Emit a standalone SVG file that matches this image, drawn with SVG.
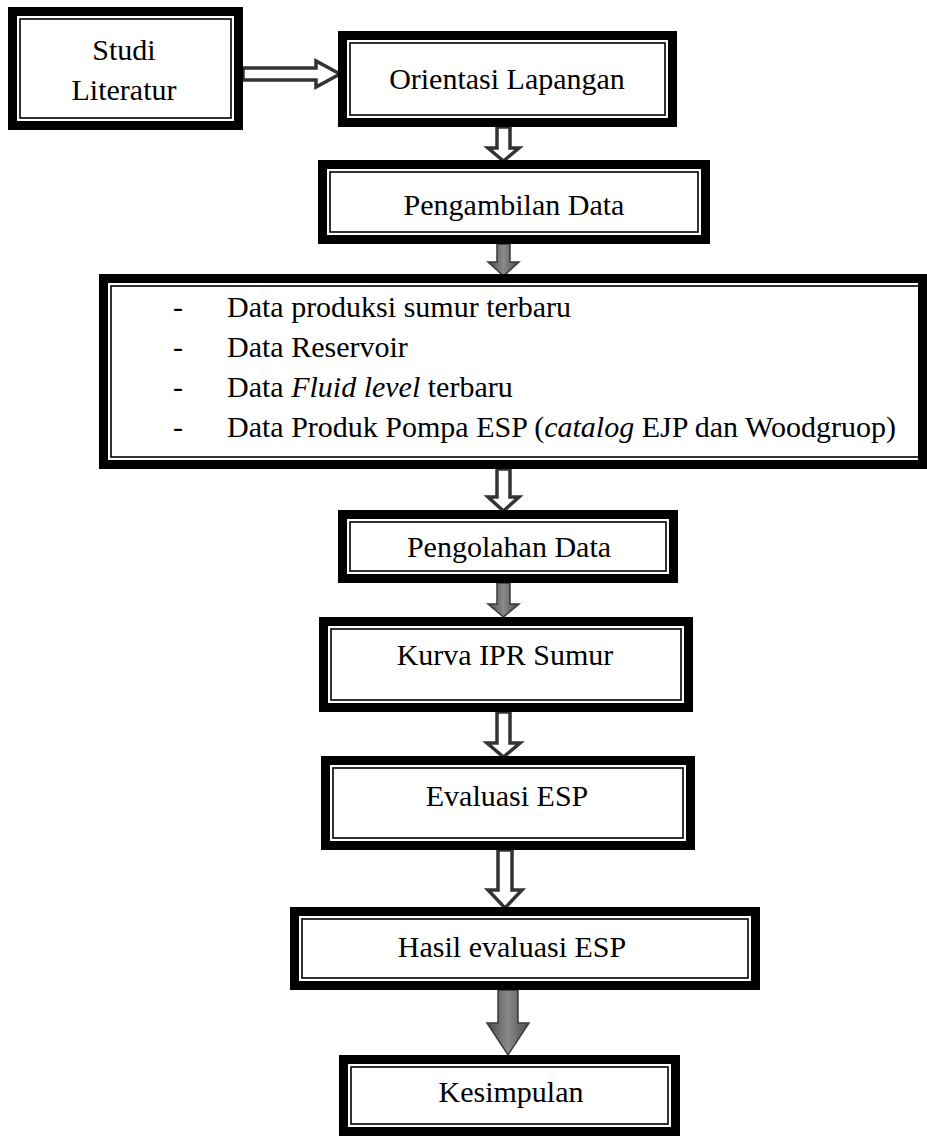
<svg xmlns="http://www.w3.org/2000/svg" width="927" height="1137" viewBox="0 0 927 1137">
<defs>
<linearGradient id="g" x1="0" y1="0" x2="1" y2="0">
<stop offset="0" stop-color="#4a4a4a"/><stop offset="0.5" stop-color="#8a8a8a"/><stop offset="1" stop-color="#4a4a4a"/>
</linearGradient>
<style>
.o{fill:#fff;stroke:#000;stroke-width:9}
.i{fill:none;stroke:#000;stroke-width:1.6}
.t{font-family:"Liberation Serif","Times New Roman",serif;font-size:30px;fill:#000}
.c{text-anchor:middle}
.h{fill:#fff;stroke:#333;stroke-width:3.5;stroke-linejoin:miter}
.s{fill:url(#g);stroke:#3a3a3a;stroke-width:1.5}
</style>
</defs>
<rect width="927" height="1137" fill="#fff"/>
<g id="connectors">
<polygon class="h" points="243,68 316,68 316,61 340,74 316,87 316,80 243,80"/>
<polygon class="h" points="497,127 510,127 510,148 519,148 503.5,161 488,148 497,148"/>
<polygon class="s" points="497,244 510,244 510,262 519,262 503.5,276 488,262 497,262"/>
<polygon class="h" points="497,469 510,469 510,497 519,497 503.5,511 488,497 497,497"/>
<polygon class="s" points="497,583 510,583 510,604 519,604 503.5,617 488,604 497,604"/>
<polygon class="h" points="497,712 510,712 510,743 520,743 503.5,757 487,743 497,743"/>
<polygon class="h" points="498,850 512,850 512,890 522,890 505,908 488,890 498,890"/>
<polygon class="s" points="498,990 518,990 518,1023 529,1023 508,1055 487,1023 498,1023"/>
</g>
<g id="n1">
<rect class="o" x="12.5" y="11.5" width="226" height="114"/>
<rect class="i" x="20" y="19" width="211" height="99"/>
<text class="t c" x="124" y="60">Studi</text>
<text class="t c" x="124" y="100">Literatur</text>
</g>
<g id="n2">
<rect class="o" x="342.5" y="35.5" width="330" height="87"/>
<rect class="i" x="350" y="43" width="315" height="72"/>
<text class="t c" x="507" y="89">Orientasi Lapangan</text>
</g>
<g id="n3">
<rect class="o" x="322.5" y="164.5" width="383" height="75"/>
<rect class="i" x="330" y="172" width="368" height="60"/>
<text class="t c" x="514" y="215">Pengambilan Data</text>
</g>
<g id="n4">
<rect class="o" x="103.5" y="278.5" width="819" height="186"/>
<rect class="i" x="111" y="286" width="808" height="171"/>
<text class="t" x="173" y="317">-</text>
<text class="t" x="227" y="317">Data produksi sumur terbaru</text>
<text class="t" x="173" y="357">-</text>
<text class="t" x="227" y="357">Data Reservoir</text>
<text class="t" x="173" y="397">-</text>
<text class="t" x="227" y="397">Data <tspan font-style="italic">Fluid level</tspan> terbaru</text>
<text class="t" x="173" y="437">-</text>
<text class="t" x="227" y="437">Data Produk Pompa ESP (<tspan font-style="italic">catalog</tspan> EJP dan Woodgruop)</text>
</g>
<g id="n5">
<rect class="o" x="342.5" y="514.5" width="331" height="64"/>
<rect class="i" x="350" y="522" width="316" height="49"/>
<text class="t c" x="509" y="557" font-size="29">Pengolahan Data</text>
</g>
<g id="n6">
<rect class="o" x="323.5" y="621.5" width="365" height="86"/>
<rect class="i" x="331" y="629" width="350" height="71"/>
<text class="t c" x="505" y="665">Kurva IPR Sumur</text>
</g>
<g id="n7">
<rect class="o" x="325.5" y="760.5" width="365" height="85"/>
<rect class="i" x="333" y="768" width="350" height="70"/>
<text class="t c" x="507" y="806">Evaluasi ESP</text>
</g>
<g id="n8">
<rect class="o" x="294.5" y="911.5" width="461" height="74"/>
<rect class="i" x="302" y="919" width="446" height="59"/>
<text class="t c" x="512" y="957">Hasil evaluasi ESP</text>
</g>
<g id="n9">
<rect class="o" x="343.5" y="1059.5" width="332" height="72"/>
<rect class="i" x="351" y="1067" width="317" height="57"/>
<text class="t c" x="511" y="1102">Kesimpulan</text>
</g>
</svg>
